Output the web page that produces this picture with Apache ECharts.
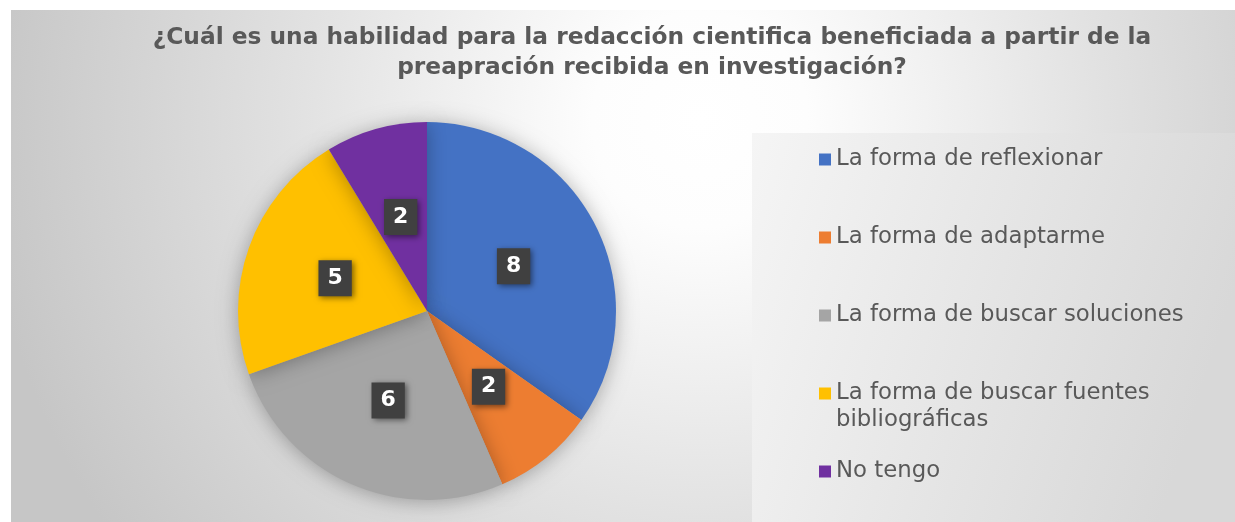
<!DOCTYPE html>
<html>
<head>
<meta charset="utf-8">
<script src="https://cdn.jsdelivr.net/npm/echarts@6/dist/echarts.min.js"></script>
<style>
  html, body { margin: 0; padding: 0; background: #fff; }
  #charts { width: 1235px; height: 522px; }
</style>
</head>
<body>
<div id="charts"></div>
<script>
// datos del gráfico
var titulo = '¿Cuál es una habilidad para la redacción cientifica beneficiada a partir de la\npreapración recibida en investigación?';
var categorias = [
  'La forma de reflexionar',
  'La forma de adaptarme',
  'La forma de buscar soluciones',
  'La forma de buscar fuentes bibliográficas',
  'No tengo'
];
var valores = [8, 2, 6, 5, 2];
var colores = ['#4472C4', '#ED7D31', '#A5A5A5', '#FFC000', '#7030A0'];
// líneas que ocupa cada texto de la leyenda
var lineasLeyenda = [1, 1, 1, 2, 1];

var myChart = echarts.init(document.getElementById('charts'));

var fuente = 'DejaVu Sans';
var leyendas = [];
categorias.forEach(function (nombre, i) {
  var centro = 159 + i * 78;
  var multi = lineasLeyenda[i] > 1;
  leyendas.push({
    data: [nombre],
    left: 819,
    top: centro - (multi ? 40 : 13),
    padding: 0,
    orient: 'vertical',
    selectedMode: false,
    icon: 'rect',
    itemWidth: 12,
    itemHeight: 12,
    // la línea vacía deja el marcador a la altura de la primera línea
    formatter: multi ? '\n{name}' : '{name}',
    textStyle: {
      fontFamily: fuente,
      fontSize: 22.8,
      lineHeight: 27,
      color: '#595959',
      width: 370,
      overflow: 'break'
    }
  });
});

var option = {
  backgroundColor: '#ffffff',
  color: colores,
  animation: false,
  title: {
    text: titulo,
    left: 652,
    textAlign: 'center',
    top: 23,
    padding: 0,
    textStyle: {
      fontFamily: fuente,
      fontWeight: 'bold',
      fontSize: 23.3,
      lineHeight: 30,
      color: '#595959'
    }
  },
  graphic: [
    {
      type: 'rect',
      z: -20,
      silent: true,
      shape: { x: 11, y: 10, width: 1224, height: 512 },
      style: {
        fill: {
          type: 'radial', x: 700, y: 120, r: 720, global: true,
          colorStops: [
            { offset: 0, color: '#ffffff' },
            { offset: 0.15, color: '#fdfdfd' },
            { offset: 0.55, color: '#e2e2e2' },
            { offset: 1, color: '#c6c6c6' }
          ]
        }
      }
    },
    {
      type: 'rect',
      z: -10,
      silent: true,
      shape: { x: 752, y: 133, width: 483, height: 389 },
      style: {
        fill: {
          type: 'linear', x: 0, y: 0, x2: 1, y2: 0.4,
          colorStops: [
            { offset: 0, color: '#f5f5f5' },
            { offset: 1, color: '#d8d8d8' }
          ]
        }
      }
    }
  ],
  legend: leyendas,
  series: [{
    type: 'pie',
    center: [427, 311],
    radius: 189,
    startAngle: 90,
    clockwise: true,
    silent: true,
    itemStyle: {
      shadowBlur: 20,
      shadowColor: 'rgba(0,0,0,0.3)',
      shadowOffsetY: 2
    },
    label: {
      position: 'inside',
      formatter: '{c}',
      fontFamily: fuente,
      fontWeight: 'bold',
      fontSize: 22,
      color: '#ffffff',
      backgroundColor: '#404040',
      padding: [8, 9, 6, 9],
      shadowBlur: 6,
      shadowColor: 'rgba(0,0,0,0.5)',
      shadowOffsetX: 2,
      shadowOffsetY: 2
    },
    labelLine: { show: false },
    data: categorias.map(function (n, i) {
      return { name: n, value: valores[i] };
    })
  }]
};

myChart.setOption(option);
window.addEventListener('resize', function () {
  myChart.resize();
});
</script>
</body>
</html>
